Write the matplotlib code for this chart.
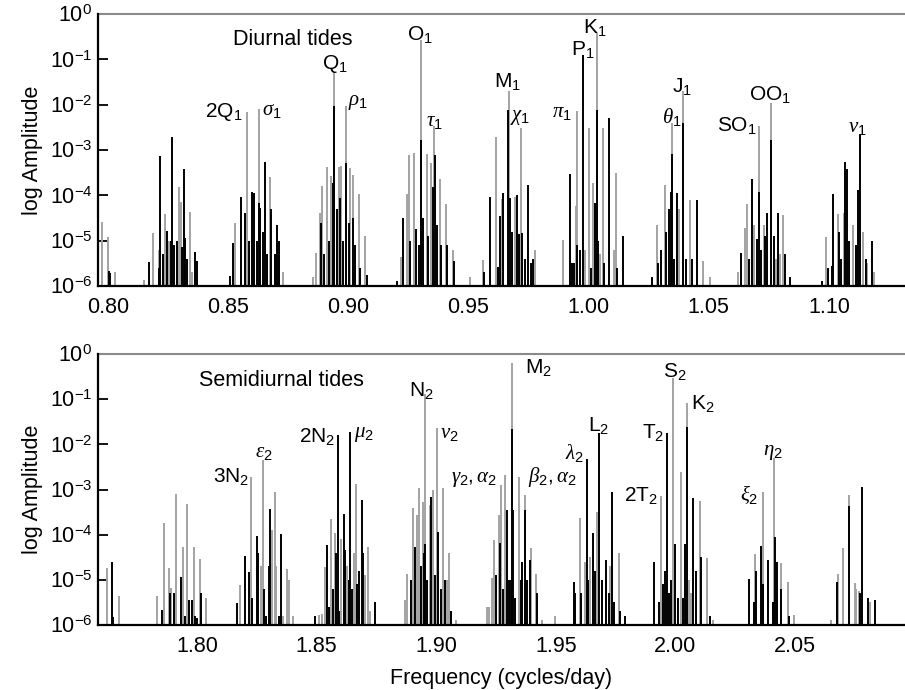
import matplotlib
matplotlib.use('Agg')
import matplotlib.pyplot as plt
from matplotlib.ticker import NullLocator
import numpy as np

plt.rcParams['font.family'] = ['Liberation Sans', 'DejaVu Sans']
plt.rcParams['mathtext.fontset'] = 'custom'
plt.rcParams['mathtext.rm'] = 'Liberation Sans'
plt.rcParams['mathtext.it'] = 'Liberation Serif:italic'
plt.rcParams['mathtext.bf'] = 'Liberation Sans:bold'

# ---------------- Diurnal band (cycles/day, log10 amplitude, shade) ----------------
diurnal_freq = [
    0.7975, 0.8000, 0.8003, 0.8008, 0.8030,
    0.8150, 0.8169, 0.8189, 0.8211, 0.8213, 0.8216, 0.8229, 0.8239, 0.8244, 0.8254, 0.8261, 0.8266,
    0.8273, 0.8286, 0.8294, 0.8305, 0.8310, 0.8316, 0.8322, 0.8330, 0.8341, 0.8348, 0.8363, 0.8372,
    0.8509, 0.8520, 0.8530, 0.8552, 0.8569, 0.8577, 0.8585, 0.8599, 0.8606, 0.8619, 0.8627, 0.8630,
    0.8634, 0.8646, 0.8655, 0.8663, 0.8674, 0.8680, 0.8694, 0.8704, 0.8710, 0.8730,
    0.8854, 0.8866, 0.8882, 0.8888, 0.8891, 0.8899, 0.8913, 0.8918, 0.8927, 0.8935, 0.8942, 0.8942,
    0.8952, 0.8960, 0.8965, 0.8971, 0.8979, 0.8990, 0.8990, 0.9002, 0.9007, 0.9018, 0.9021, 0.9029,
    0.9043, 0.9049, 0.9071, 0.9077,
    0.9201, 0.9218, 0.9226, 0.9245, 0.9251, 0.9257, 0.9273, 0.9282, 0.9293, 0.9301, 0.9304, 0.9312,
    0.9326, 0.9332, 0.9343, 0.9351, 0.9357, 0.9360, 0.9368, 0.9382, 0.9387, 0.9407, 0.9412, 0.9435,
    0.9440, 0.9506,
    0.9562, 0.9566, 0.9590, 0.9615, 0.9625, 0.9631, 0.9640, 0.9643, 0.9664, 0.9667, 0.9672, 0.9683,
    0.9695, 0.9700, 0.9710, 0.9720, 0.9723, 0.9735, 0.9748, 0.9760, 0.9770, 0.9776,
    0.9895, 0.9923, 0.9929, 0.9940, 0.9948, 0.9950, 0.9953, 0.9964, 0.9975, 0.9986, 1.0003, 1.0009,
    1.0020, 1.0028, 1.0034, 1.0034, 1.0040, 1.0048, 1.0059, 1.0065, 1.0084, 1.0104, 1.0114, 1.0120,
    1.0142,
    1.0262, 1.0286, 1.0290, 1.0303, 1.0317, 1.0322, 1.0334, 1.0342, 1.0347, 1.0347, 1.0355, 1.0367,
    1.0375, 1.0392, 1.0393, 1.0405, 1.0422, 1.0430, 1.0450, 1.0475, 1.0505,
    1.0623, 1.0633, 1.0651, 1.0659, 1.0667, 1.0681, 1.0690, 1.0699, 1.0708, 1.0708, 1.0716, 1.0728,
    1.0736, 1.0744, 1.0760, 1.0760, 1.0771, 1.0779, 1.0790, 1.0797, 1.0808, 1.0819, 1.0839,
    1.0970, 1.0990, 1.0998, 1.1012, 1.1018, 1.1037, 1.1043, 1.1051, 1.1062, 1.1068, 1.1074, 1.1085,
    1.1101, 1.1112, 1.1123, 1.1129, 1.1140, 1.1154, 1.1160, 1.1179, 1.1188,
]
diurnal_log_amp = [
    -4.59, -4.92, -5.67, -5.72, -5.70,
    -5.86, -5.48, -4.84, -5.20, -5.60, -3.13, -5.30, -4.42, -4.79, -5.00, -5.00, -2.71,
    -5.10, -5.00, -3.82, -4.15, -5.15, -3.42, -4.95, -5.40, -4.37, -5.70, -5.26, -5.45,
    -5.78, -5.06, -4.60, -4.03, -4.40, -2.17, -5.00, -3.93, -3.95, -5.00, -4.18, -2.10,
    -4.28, -4.80, -3.27, -5.30, -3.60, -4.31, -5.30, -4.65, -5.00, -5.70,
    -5.80, -5.27, -4.38, -4.60, -3.79, -5.30, -3.37, -5.00, -3.57, -3.72, -1.31, -2.02,
    -4.30, -3.37, -4.05, -3.35, -5.00, -2.02, -3.28, -4.60, -3.40, -3.55, -4.50, -5.10,
    -3.97, -5.60, -4.90, -5.75,
    -5.90, -5.35, -4.49, -3.96, -3.11, -5.00, -3.06, -4.75, -5.10, -0.57, -2.78, -4.50,
    -3.09, -4.90, -3.29, -3.81, -2.47, -3.12, -4.65, -3.65, -5.10, -4.19, -5.10, -5.20,
    -5.45, -5.80,
    -5.43, -5.70, -4.03, -2.71, -5.57, -4.45, -4.08, -3.95, -2.12, -1.69, -4.05, -4.80,
    -4.04, -4.00, -4.85, -2.52, -4.83, -5.40, -3.77, -5.50, -5.40, -5.20,
    -4.99, -3.54, -5.50, -5.50, -4.24, -2.14, -5.10, -5.20, -0.90, -5.20, -2.52, -5.60,
    -3.72, -4.18, -0.43, -2.11, -5.00, -5.30, -2.52, -5.50, -2.29, -5.20, -3.51, -5.60,
    -4.90,
    -5.80, -4.65, -5.50, -5.20, -3.77, -4.80, -4.30, -3.92, -2.41, -3.08, -5.40, -3.95,
    -4.30, -1.69, -2.40, -5.40, -4.10, -5.40, -4.10, -5.45, -5.80,
    -5.70, -5.27, -4.73, -4.19, -5.40, -3.64, -4.65, -4.97, -2.47, -3.93, -5.20, -4.65,
    -4.90, -4.38, -1.96, -2.78, -4.90, -5.40, -4.39, -5.30, -4.44, -5.30, -5.80,
    -5.90, -4.93, -5.60, -5.55, -3.97, -4.41, -4.80, -5.40, -4.40, -3.26, -3.43, -5.00,
    -4.65, -5.10, -3.88, -2.67, -4.80, -5.40, -5.50, -5.00, -5.70,
]
diurnal_shade = ("ggkkg"
                 "gkggkkkgkgkkkkggkkkkggkk"
                 "kkgkkgkkkkkgkkkkgkkkkg"
                 "gggkgkgkgkgkkgkgkgkkggkkgkgk"
                 "kgkggkgkkgkkgkgkgkkgkgkgkg"
                 "gkkgkkgkkgkkgkkgkkkkkg"
                 "gkkkggkkkggkgkgkkggkkggkk"
                 "kgkkgkkkgkkkggkkgkkgg"
                 "gkggkkgkgkkgkkgkkgkggkk"
                 "kgkkkgkkgkkkgkkkgkgkg")

# ---------------- Semidiurnal band ----------------
semi_freq = [
    1.7588, 1.7625, 1.7645, 1.7648, 1.7673,
    1.7834, 1.7854, 1.7862, 1.7882, 1.7888, 1.7893, 1.7902, 1.7912, 1.7934, 1.7940, 1.7951, 1.7960,
    1.7966, 1.7980, 1.7987, 1.7990, 1.7998, 1.8011, 1.8016, 1.8038,
    1.8169, 1.8178, 1.8199, 1.8219, 1.8227, 1.8229, 1.8250, 1.8256, 1.8267, 1.8275, 1.8281, 1.8289,
    1.8300, 1.8305, 1.8314, 1.8325, 1.8330, 1.8343, 1.8352, 1.8360, 1.8375, 1.8383, 1.8403,
    1.8493, 1.8512, 1.8523, 1.8534, 1.8542, 1.8550, 1.8562, 1.8567, 1.8578, 1.8581, 1.8589, 1.8595,
    1.8603, 1.8615, 1.8620, 1.8626, 1.8634, 1.8640, 1.8648, 1.8657, 1.8665, 1.8670, 1.8679, 1.8690,
    1.8696, 1.8704, 1.8715, 1.8723, 1.8743,
    1.8868, 1.8877, 1.8896, 1.8902, 1.8910, 1.8918, 1.8927, 1.8935, 1.8944, 1.8947, 1.8955, 1.8955,
    1.8963, 1.8974, 1.8980, 1.8988, 1.8994, 1.9002, 1.9008, 1.9019, 1.9030, 1.9036, 1.9044, 1.9055,
    1.9060, 1.9083,
    1.9211, 1.9219, 1.9232, 1.9242, 1.9250, 1.9261, 1.9267, 1.9270, 1.9280, 1.9289, 1.9295, 1.9303,
    1.9311, 1.9317, 1.9317, 1.9322, 1.9330, 1.9345, 1.9353, 1.9358, 1.9370, 1.9370, 1.9381, 1.9392,
    1.9398, 1.9418, 1.9422, 1.9443, 1.9497,
    1.9576, 1.9582, 1.9601, 1.9607, 1.9621, 1.9629, 1.9634, 1.9643, 1.9654, 1.9662, 1.9673, 1.9679,
    1.9693, 1.9710, 1.9721, 1.9727, 1.9735, 1.9743, 1.9763, 1.9768, 1.9791,
    1.9911, 1.9933, 1.9941, 1.9950, 1.9958, 1.9966, 1.9975, 1.9983, 1.9991, 1.9997, 2.0011, 2.0022,
    2.0030, 2.0041, 2.0047, 2.0050, 2.0058, 2.0064, 2.0075, 2.0086, 2.0103, 2.0106, 2.0131, 2.0145,
    2.0159,
    2.0309, 2.0328, 2.0334, 2.0337, 2.0357, 2.0365, 2.0368, 2.0387, 2.0406, 2.0412, 2.0415, 2.0423,
    2.0440, 2.0443, 2.0471, 2.0474, 2.0497,
    2.0650, 2.0674, 2.0678, 2.0699, 2.0727, 2.0727, 2.0750, 2.0756, 2.0769, 2.0772, 2.0780, 2.0805,
    2.0813, 2.0833,
]
semi_log_amp = [
    -3.90, -4.74, -4.61, -5.83, -5.36,
    -5.36, -5.67, -3.74, -4.73, -5.30, -5.17, -5.30, -3.11, -4.93, -4.28, -5.80, -3.32,
    -5.45, -5.45, -4.28, -5.80, -5.85, -4.53, -5.30, -5.40,
    -5.52, -5.11, -4.47, -4.82, -2.73, -5.40, -4.04, -4.40, -4.70, -2.35, -5.20, -5.80,
    -4.70, -3.44, -3.90, -3.05, -4.70, -5.80, -3.99, -5.80, -4.75, -5.00, -5.80,
    -5.80, -5.77, -5.75, -4.71, -4.23, -5.60, -3.66, -5.20, -3.97, -4.40, -1.79, -5.70,
    -4.10, -3.55, -4.35, -4.70, -5.00, -1.72, -5.20, -4.40, -2.88, -5.10, -4.80, -3.23,
    -4.40, -4.90, -4.27, -5.70, -5.50,
    -5.45, -4.86, -5.00, -3.42, -4.27, -3.56, -2.97, -4.70, -3.27, -4.40, -0.89, -4.20,
    -5.00, -3.35, -3.16, -3.00, -4.90, -1.63, -3.93, -5.20, -2.96, -5.00, -5.00, -4.41,
    -5.70, -5.90,
    -5.60, -5.60, -4.97, -4.12, -4.90, -3.56, -4.19, -2.90, -5.20, -2.68, -3.45, -5.00,
    -5.00, -0.19, -1.65, -3.45, -5.40, -2.72, -5.00, -4.60, -3.12, -3.45, -5.00, -4.56,
    -4.30, -4.86, -5.30, -5.90, -5.80,
    -5.04, -5.30, -3.64, -5.30, -4.60, -2.33, -5.00, -4.50, -3.96, -4.80, -3.50, -1.74,
    -5.00, -4.56, -5.30, -4.70, -3.06, -5.50, -4.41, -5.70, -5.80,
    -4.61, -5.50, -3.14, -5.10, -4.80, -1.76, -5.30, -5.00, -0.54, -4.20, -5.40, -2.61,
    -5.40, -4.20, -1.09, -1.61, -5.00, -5.30, -3.19, -4.80, -3.25, -4.49, -4.52, -5.80,
    -5.90,
    -4.98, -5.50, -4.43, -4.80, -4.24, -3.05, -5.10, -4.56, -5.50, -2.31, -4.05, -4.60,
    -4.63, -5.20, -5.04, -5.80, -5.78,
    -5.90, -5.04, -4.86, -4.30, -3.12, -3.37, -5.08, -5.20, -5.25, -5.30, -2.94, -5.41,
    -5.50, -5.45,
]
semi_shade = ("kgkkg"
              "gkggkgkgkgkgkkgkkgkg"
              "kgkkgkkkggkkkkgggkkgggg"
              "kgggkkgkgkkkgkkgkkkggkkkkgggk"
              "ggkgkggkgkgkkgkgkgkkgkggkg"
              "ggggkgkgkgkkkgkkkgkkgkkkggkgg"
              "kkgkgkkgkkgkkkkgkkgkk"
              "kkgkkkkkgkkgkkgkggkkgkgkg"
              "kkgkkgkkkgkkgkgkg"
              "gkgggkgggkkkgk")

# ---------------- Constituent labels ----------------
diurnal_label_text = ['2Q$_1$', r'$\sigma_1$', 'Q$_1$', r'$\rho_1$', 'O$_1$', r'$\tau_1$',
                      'M$_1$', r'$\chi_1$', r'$\pi_1$', 'P$_1$', 'K$_1$', r'$\theta_1$',
                      'J$_1$', 'SO$_1$', 'OO$_1$', r'$\nu_1$']
diurnal_label_freq = [0.8483, 0.8682, 0.8943, 0.9042, 0.9298, 0.9357,
                      0.9663, 0.9717, 0.9889, 0.9977, 1.0027, 1.0345,
                      1.0389, 1.0618, 1.0755, 1.1117]
diurnal_label_logy = [-2.16, -2.12, -1.11, -1.96, -0.46, -2.37,
                      -1.50, -2.29, -2.18, -0.79, -0.29, -2.27,
                      -1.59, -2.47, -1.78, -2.50]

semi_label_text = ['3N$_2$', r'$\varepsilon_2$', '2N$_2$', r'$\mu_2$', 'N$_2$', r'$\nu_2$',
                   r'$\gamma_2,\alpha_2$', 'M$_2$', r'$\beta_2,\alpha_2$', r'$\lambda_2$', 'L$_2$',
                   '2T$_2$', 'T$_2$', 'S$_2$', 'K$_2$', r'$\xi_2$', r'$\eta_2$']
semi_label_freq = [1.8142, 1.8278, 1.8504, 1.8698, 1.8939, 1.9054,
                   1.9158, 1.9428, 1.9484, 1.9580, 1.9679,
                   1.9854, 1.9908, 1.9998, 2.0113, 2.0310, 2.0408]
semi_label_logy = [-2.72, -2.19, -1.82, -1.79, -0.80, -1.75,
                   -2.77, -0.30, -2.72, -2.19, -1.59,
                   -3.14, -1.74, -0.38, -1.09, -3.12, -2.18]

ytick_vals = [1e0, 1e-1, 1e-2, 1e-3, 1e-4, 1e-5, 1e-6]
ytick_text = [r'$10^{0}$', r'$10^{-1}$', r'$10^{-2}$', r'$10^{-3}$',
              r'$10^{-4}$', r'$10^{-5}$', r'$10^{-6}$']
diurnal_xticks = [0.80, 0.85, 0.90, 0.95, 1.00, 1.05, 1.10]
semi_xticks = [1.80, 1.85, 1.90, 1.95, 2.00, 2.05]

GRAY = '#a3a3a3'
FS = 15.5


def panel(ax, freq, logamp, shade, xlim, xticks, title, title_pos,
          lab_text, lab_freq, lab_logy):
    assert len(freq) == len(logamp) == len(shade)
    f = np.asarray(freq)
    a = 10.0 ** np.asarray(logamp)
    g = np.array([c == 'g' for c in shade])
    ax.set_yscale('log')
    ax.vlines(f[g], 1e-6, a[g], colors=GRAY, lw=1.4, zorder=2)
    ax.vlines(f[~g], 1e-6, a[~g], colors='black', lw=1.4, zorder=3)
    ax.set_ylim(1e-6, 1.0)
    ax.set_xlim(*xlim)
    ax.set_yticks(ytick_vals)
    ax.set_yticklabels(ytick_text)
    ax.yaxis.set_minor_locator(NullLocator())
    ax.set_xticks(xticks)
    ax.set_xticklabels(['%.2f' % v for v in xticks])
    ax.tick_params(axis='y', direction='in', length=7, width=1.3, labelsize=FS, pad=4)
    ax.tick_params(axis='x', length=0, labelsize=FS, pad=8)
    ax.spines['right'].set_visible(False)
    ax.spines['top'].set_color('#8a8a8a')
    ax.spines['top'].set_linewidth(1.5)
    for s in ('left', 'bottom'):
        ax.spines[s].set_color('black')
        ax.spines[s].set_linewidth(1.6)
        ax.spines[s].set_zorder(5)
    ax.set_ylabel('log Amplitude', fontsize=FS, labelpad=5)
    ax.text(title_pos[0], title_pos[1], title, fontsize=FS, ha='center', va='center')
    for t, x, y in zip(lab_text, lab_freq, lab_logy):
        ax.text(x, 10.0 ** y, t, fontsize=15, ha='center', va='center')


fig = plt.figure(figsize=(9.05, 6.9), dpi=100)
ax1 = fig.add_axes([98 / 905, 1 - 286 / 690, 807 / 905, 272 / 690])
ax2 = fig.add_axes([98 / 905, 1 - 625 / 690, 807 / 905, 271 / 690])

panel(ax1, diurnal_freq, diurnal_log_amp, diurnal_shade, (0.79584, 1.13167),
      diurnal_xticks, 'Diurnal tides', (0.8770, 10 ** -0.57),
      diurnal_label_text, diurnal_label_freq, diurnal_label_logy)
panel(ax2, semi_freq, semi_log_amp, semi_shade, (1.75861, 2.09599),
      semi_xticks, 'Semidiurnal tides', (1.8351, 10 ** -0.58),
      semi_label_text, semi_label_freq, semi_label_logy)
ax2.set_xlabel('Frequency (cycles/day)', fontsize=FS, labelpad=8)

fig.savefig('out.png', dpi=100)
